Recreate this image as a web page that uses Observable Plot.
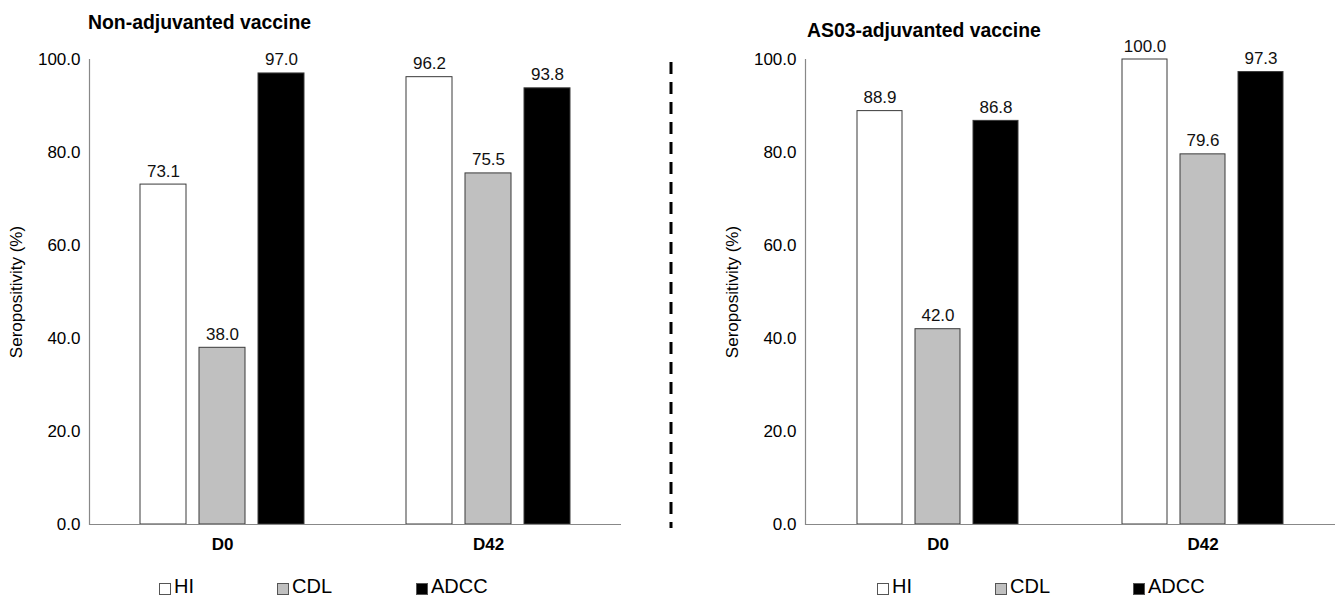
<!DOCTYPE html>
<html>
<head>
<meta charset="utf-8">
<script src="https://cdn.jsdelivr.net/npm/d3@7"></script>
<script src="https://cdn.jsdelivr.net/npm/@observablehq/plot@0.6"></script>
<style>
  html, body { margin: 0; padding: 0; background: #fff; }
  #root { position: relative; width: 1339px; height: 598px; overflow: hidden; font-family: "Liberation Sans", Arial, sans-serif; color: #000; }
  .title { position: absolute; font-weight: bold; font-size: 19.4px; line-height: 19px; white-space: nowrap; }
  .panel { position: absolute; top: 0; }
  .leg { position: absolute; font-size: 20px; line-height: 20px; white-space: nowrap; }
  .sw { position: absolute; width: 10px; height: 10px; border: 1px solid #555; box-sizing: content-box; }
</style>
</head>
<body>
<div id="root"></div>
<script>
// ---- data ----
const groups = ["D0", "D42"];
const series = ["HI", "CDL", "ADCC"];
const seriesFill = ["#ffffff", "#c0c0c0", "#000000"];
const nonAdjD0 = [73.1, 38.0, 97.0];
const nonAdjD42 = [96.2, 75.5, 93.8];
const as03D0 = [88.9, 42.0, 86.8];
const as03D42 = [100.0, 79.6, 97.3];
const yTicks = [0, 20, 40, 60, 80, 100];
const panelTitles = ["Non-adjuvanted vaccine", "AS03-adjuvanted vaccine"];
const yLabel = "Seropositivity (%)";

function rows(d0, d42) {
  const out = [];
  series.forEach((s, i) => out.push({group: "D0", series: s, value: d0[i]}));
  series.forEach((s, i) => out.push({group: "D42", series: s, value: d42[i]}));
  return out;
}

const root = document.getElementById("root");
const font = '"Liberation Sans", Arial, sans-serif';

function panel(data, opts) {
  const p = Plot.plot({
    width: opts.width,
    height: 560,
    marginLeft: opts.ml,
    marginRight: opts.mr,
    marginTop: 59,
    marginBottom: 36,
    style: {fontFamily: font, fontSize: "17px", color: "#000", background: "transparent", overflow: "visible"},
    fx: {domain: groups, padding: 0, label: null, axis: null},
    x: {domain: series, paddingInner: 13 / 59, paddingOuter: 0.864, axis: null},
    y: {domain: [0, 100], ticks: yTicks},
    color: {domain: series, range: seriesFill},
    marks: [
      Plot.barY(data, {fx: "group", x: "series", y: "value", fill: "series", stroke: "#3a3a3a", strokeWidth: 1}),
      Plot.ruleY([0], {stroke: "#888", strokeWidth: 1.2}),
      Plot.frame({anchor: "left", facetAnchor: "left", stroke: "#888", strokeWidth: 1.2}),
      Plot.text(data, {fx: "group", x: "series", y: "value", text: d => d.value.toFixed(1), lineAnchor: "bottom", dy: -8, fontSize: 17, fill: "#111"}),
      Plot.axisY({ticks: yTicks, tickSize: 0, tickPadding: 9, tickFormat: d => d.toFixed(1), label: yLabel, labelAnchor: "center", labelArrow: "none", labelOffset: opts.lo, fontSize: 17}),
      Plot.axisFx({anchor: "bottom", tickSize: 0, tickPadding: 13, fontWeight: "bold", fontSize: 17, label: null})
    ]
  });
  p.classList.add("panel");
  p.style.left = opts.left + "px";
  root.appendChild(p);
}

panel(rows(nonAdjD0, nonAdjD42), {left: 0, width: 660, ml: 89, mr: 39, lo: 80});
panel(rows(as03D0, as03D42), {left: 700, width: 639, ml: 104, mr: 4, lo: 80});

// titles
[[88, 12.5], [807, 20.5]].forEach(([x, y], i) => {
  const t = document.createElement("div");
  t.className = "title";
  t.textContent = panelTitles[i];
  t.style.left = x + "px";
  t.style.top = y + "px";
  root.appendChild(t);
});

// legends
const legX = [[159, 277, 416], [877, 995, 1133]];
legX.forEach(xs => {
  series.forEach((s, i) => {
    const sw = document.createElement("div");
    sw.className = "sw";
    sw.style.left = xs[i] + "px";
    sw.style.top = "583px";
    sw.style.background = seriesFill[i];
    root.appendChild(sw);
    const t = document.createElement("div");
    t.className = "leg";
    t.textContent = s;
    t.style.left = (xs[i] + 15) + "px";
    t.style.top = "576px";
    root.appendChild(t);
  });
});

// dashed divider
const ns = "http://www.w3.org/2000/svg";
const dsvg = document.createElementNS(ns, "svg");
dsvg.setAttribute("width", "10");
dsvg.setAttribute("height", "598");
dsvg.style.position = "absolute";
dsvg.style.left = "666px";
dsvg.style.top = "0px";
const ln = document.createElementNS(ns, "line");
ln.setAttribute("x1", "5"); ln.setAttribute("x2", "5");
ln.setAttribute("y1", "62"); ln.setAttribute("y2", "528");
ln.setAttribute("stroke", "#000");
ln.setAttribute("stroke-width", "3");
ln.setAttribute("stroke-dasharray", "12 8");
dsvg.appendChild(ln);
root.appendChild(dsvg);
</script>
</body>
</html>
